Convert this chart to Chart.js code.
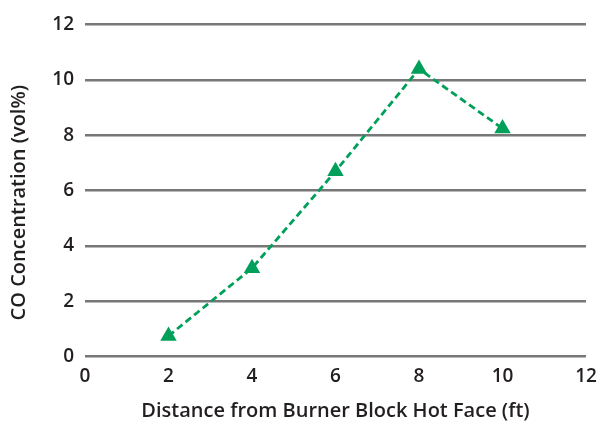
<!DOCTYPE html>
<html>
<head>
<meta charset="utf-8">
<script src="https://cdn.jsdelivr.net/npm/chart.js@4"></script>
<style>
  html, body { margin: 0; padding: 0; background: #fff; }
  #wrap { width: 599px; height: 424px; }
</style>
</head>
<body>
<div id="wrap"><canvas id="c" width="599" height="424"></canvas></div>
<script>
const distances = [2, 4, 6, 8, 10];
const coConcentration = [0.75, 3.2, 6.7, 10.4, 8.25];
const xTicks = [0, 2, 4, 6, 8, 10, 12];
const yTicks = [0, 2, 4, 6, 8, 10, 12];
const xTitle = 'Distance from Burner Block Hot Face (ft)';
const yTitle = 'CO Concentration (vol%)';

const textColor = '#231f20';
const green = '#00a05a';
const fontFamily = '"Open Sans", "Noto Sans", sans-serif';

const points = distances.map((d, i) => ({ x: d, y: coConcentration[i] }));

// Y-axis title drawn slightly below the plot centre, as in the reference
const yTitlePlugin = {
  id: 'yTitle',
  afterDraw(chart) {
    const { ctx, chartArea } = chart;
    ctx.save();
    ctx.translate(19, (chartArea.top + chartArea.bottom) / 2 + 12);
    ctx.rotate(-Math.PI / 2);
    ctx.fillStyle = textColor;
    ctx.font = '600 20px ' + fontFamily;
    ctx.textAlign = 'center';
    ctx.textBaseline = 'middle';
    ctx.fillText(yTitle, 0, 0);
    ctx.restore();
  }
};

new Chart(document.getElementById('c'), {
  type: 'scatter',
  data: {
    datasets: [{
      data: points,
      showLine: true,
      borderColor: green,
      borderWidth: 2.8,
      borderDash: [7, 4],
      pointStyle: 'triangle',
      pointRadius: 9.5,
      pointHoverRadius: 9.5,
      pointBackgroundColor: green,
      pointBorderColor: green,
      pointBorderWidth: 0
    }]
  },
  plugins: [yTitlePlugin],
  options: {
    responsive: false,
    animation: false,
    devicePixelRatio: 1,
    layout: { padding: { top: 24.7, right: 13, left: 0, bottom: 0 } },
    plugins: { legend: { display: false }, tooltip: { enabled: false } },
    scales: {
      x: {
        type: 'linear',
        min: 0, max: 12,
        afterBuildTicks: s => { s.ticks = xTicks.map(v => ({ value: v })); },
        afterFit: s => { s.height = 67.3; s.paddingLeft = 0; s.paddingRight = 0; },
        grid: { display: false, drawTicks: false },
        border: { display: false },
        ticks: { color: textColor, padding: 8, font: { family: fontFamily, size: 19, weight: '600' } },
        title: { display: true, text: xTitle, color: textColor, padding: { top: 0, bottom: 1 },
                 font: { family: fontFamily, size: 20, weight: '600' } }
      },
      y: {
        type: 'linear',
        min: 0, max: 12,
        afterBuildTicks: s => { s.ticks = yTicks.map(v => ({ value: v })); },
        afterFit: s => { s.width = 85; s.paddingTop = 0; s.paddingBottom = 0; },
        grid: { color: '#777777', lineWidth: 2.5, drawTicks: false },
        border: { display: false },
        ticks: { color: textColor, padding: 11, font: { family: fontFamily, size: 19, weight: '600' } },
        title: { display: false }
      }
    }
  }
});
</script>
</body>
</html>
